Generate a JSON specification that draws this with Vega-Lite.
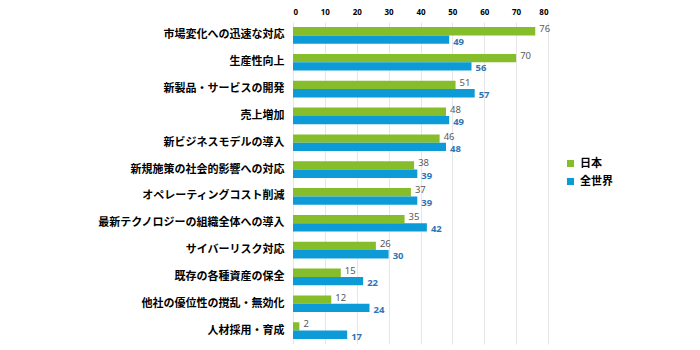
{
  "$schema": "https://vega.github.io/schema/vega-lite/v6.json",
  "width": 255,
  "height": 322,
  "autosize": "none",
  "padding": {"left": 293, "top": 22, "right": 152, "bottom": 6},
  "background": "white",
  "data": {"values": [
    {"cat": "市場変化への迅速な対応", "s": "日本", "v": 76},
    {"cat": "市場変化への迅速な対応", "s": "全世界", "v": 49},
    {"cat": "生産性向上", "s": "日本", "v": 70},
    {"cat": "生産性向上", "s": "全世界", "v": 56},
    {"cat": "新製品・サービスの開発", "s": "日本", "v": 51},
    {"cat": "新製品・サービスの開発", "s": "全世界", "v": 57},
    {"cat": "売上増加", "s": "日本", "v": 48},
    {"cat": "売上増加", "s": "全世界", "v": 49},
    {"cat": "新ビジネスモデルの導入", "s": "日本", "v": 46},
    {"cat": "新ビジネスモデルの導入", "s": "全世界", "v": 48},
    {"cat": "新規施策の社会的影響への対応", "s": "日本", "v": 38},
    {"cat": "新規施策の社会的影響への対応", "s": "全世界", "v": 39},
    {"cat": "オペレーティングコスト削減", "s": "日本", "v": 37},
    {"cat": "オペレーティングコスト削減", "s": "全世界", "v": 39},
    {"cat": "最新テクノロジーの組織全体への導入", "s": "日本", "v": 35},
    {"cat": "最新テクノロジーの組織全体への導入", "s": "全世界", "v": 42},
    {"cat": "サイバーリスク対応", "s": "日本", "v": 26},
    {"cat": "サイバーリスク対応", "s": "全世界", "v": 30},
    {"cat": "既存の各種資産の保全", "s": "日本", "v": 15},
    {"cat": "既存の各種資産の保全", "s": "全世界", "v": 22},
    {"cat": "他社の優位性の撹乱・無効化", "s": "日本", "v": 12},
    {"cat": "他社の優位性の撹乱・無効化", "s": "全世界", "v": 24},
    {"cat": "人材採用・育成", "s": "日本", "v": 2},
    {"cat": "人材採用・育成", "s": "全世界", "v": 17}
  ]},
  "encoding": {
    "y": {"field": "cat", "type": "nominal", "sort": null, "title": null,
      "scale": {"paddingInner": 0.38, "paddingOuter": 0.19},
      "axis": {"domain": false, "ticks": false, "labelFont": "Noto Sans CJK JP", "labelFontWeight": "bold", "labelFontSize": 11, "labelColor": "#000000", "labelPadding": 9, "labelLimit": 280}},
    "x": {"field": "v", "type": "quantitative", "title": null,
      "scale": {"domain": [0, 80]},
      "axis": {"orient": "top", "values": [0,10,20,30,40,50,60,70,80], "domain": false, "ticks": false, "grid": true, "gridColor": "#e6e6e6", "labelFont": "Noto Sans", "labelFontWeight": "bold", "labelFontSize": 8, "labelColor": "#000000", "labelPadding": 6}},
    "yOffset": {"field": "s", "type": "nominal", "sort": ["日本", "全世界"], "scale": {"paddingInner": 0, "paddingOuter": 0}}
  },
  "layer": [
    {
      "mark": {"type": "bar"},
      "encoding": {
        "color": {"field": "s", "type": "nominal", "sort": ["日本", "全世界"],
          "scale": {"domain": ["日本", "全世界"], "range": ["#85bd2b", "#0d9bd8"]},
          "legend": {"title": null, "orient": "none", "legendX": 272, "legendY": 136, "symbolType": "square", "symbolSize": 50, "labelFont": "Noto Sans CJK JP", "labelFontWeight": "bold", "labelFontSize": 11, "labelColor": "#000000", "rowPadding": 6}}
      }
    },
    {
      "transform": [{"filter": "datum.s === '日本'"}],
      "mark": {"type": "text", "align": "left", "dx": 4, "dy": -2, "font": "Noto Sans", "fontSize": 9.5, "color": "#595959"},
      "encoding": {"text": {"field": "v", "type": "quantitative"}}
    },
    {
      "transform": [{"filter": "datum.s === '全世界'"}],
      "mark": {"type": "text", "align": "left", "dx": 4, "dy": 2, "font": "Noto Sans", "fontSize": 9.5, "fontWeight": "bold", "color": "#2e75b6"},
      "encoding": {"text": {"field": "v", "type": "quantitative"}}
    }
  ],
  "config": {"view": {"stroke": null}}
}
